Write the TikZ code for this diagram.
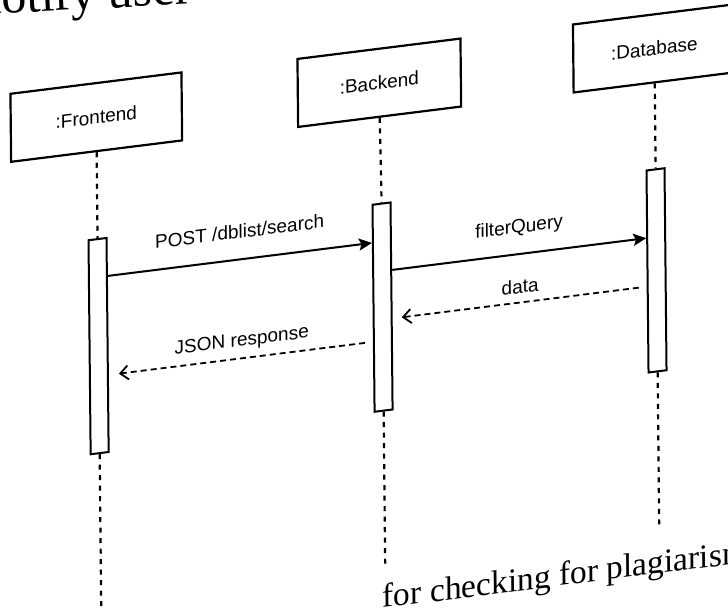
\documentclass[tikz,border=0pt]{standalone}
\usepackage{fontspec}
\setmainfont{Liberation Serif}
\newfontfamily\labelfont{Liberation Sans}
\usetikzlibrary{arrows.meta,calc}

\begin{document}
\begin{tikzpicture}[x=1pt,y=-1pt,
  actor/.style={draw, line width=2.2pt, fill=white, minimum width=#1,
    minimum height=68pt, inner sep=0pt,
    font=\labelfont\fontsize{19}{23}\selectfont},
  actbar/.style={draw, line width=2pt, fill=white, minimum width=18pt,
    minimum height=#1, inner sep=0pt, anchor=north},
  lifeline/.style={line width=2.2pt, dash pattern=on 5pt off 5.5pt},
  callarrow/.style={line width=2pt, -{Stealth[length=13pt,width=12pt,inset=2.5pt]}},
  replyarrow/.style={line width=1.8pt, dash pattern=on 6pt off 4pt,
    -{Straight Barb[length=8pt,width=14pt,line width=1.8pt]}},
  msglabel/.style={inner sep=0pt, font=\labelfont\fontsize{19}{23}\selectfont},
  pagetext/.style={inner sep=0pt, anchor=base west, font=\fontsize{#1}{#1}\selectfont}
]
\fill[white] (0,0) rectangle (728,609);
\useasboundingbox (0,0) rectangle (728,609);
\clip (0,0) rectangle (728,609);

% surrounding page text, cut by the frame
\node[pagetext=50, rotate=3] (toptext) at (-23,15) {notify user};

\begin{scope}[cm={1,0.125,-0.01,1,(0pt,0pt)}, transform shape]
  % participants
  \node[actor=171pt] (fe) at (95,129) {:Frontend};
  \node[actor=163pt] (be) at (378,130) {:Backend};
  \node[actor=162pt] (db) at (653,130) {:Database};

  % activation bars
  \node[actbar=214pt] (feb) at (95,250) {};
  \node[actbar=207pt] (beb) at (379,250) {};
  \node[actbar=202pt] (dbb) at (653,250) {};

  % lifeline ends
  \coordinate (feend) at (95,630);
  \coordinate (beend) at (379,612);
  \coordinate (dbend) at (653,607);

  \draw[lifeline] (fe.south) -- (feb.north);
  \draw[lifeline] (feb.south) -- (feend);
  \draw[lifeline] (be.south) -- (beb.north);
  \draw[lifeline] (beb.south) -- (beend);
  \draw[lifeline] (db.south) -- (dbb.north);
  \draw[lifeline] (dbb.south) -- (dbend);

  % messages
  \draw[callarrow] ($(feb.north east)+(0,39)$) --
    node[msglabel, yshift=28pt] (l1) {POST /dblist/search}
    ($(beb.north west)+(0,39)$);
  \draw[callarrow] ($(beb.north east)+(0,68.5)$) --
    node[msglabel, yshift=26pt] (l2) {filterQuery}
    ($(dbb.north west)+(0,68.5)$);
  \draw[replyarrow] ($(dbb.north west)+(-8,117)$) --
    node[msglabel, yshift=16pt] (l3) {data}
    ($(beb.north east)+(9,117)$);
  \draw[replyarrow] ($(beb.north west)+(-8,138)$) --
    node[msglabel, yshift=17pt] (l4) {JSON response}
    ($(feb.north east)+(10,138)$);

  % page text below the figure
  \node[pagetext=33.5] (bottomtext) at (376,655) {for checking for plagiarism};
\end{scope}
\end{tikzpicture}
\end{document}
